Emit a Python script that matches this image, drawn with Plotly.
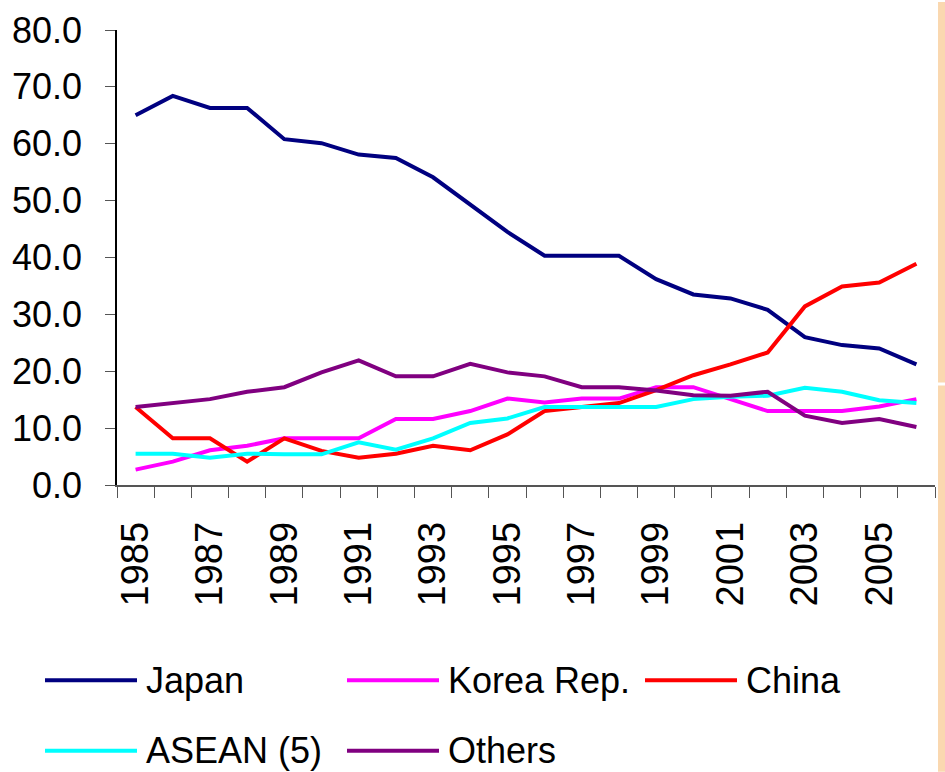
import plotly.graph_objects as go

# Share of trade by partner (%), 1985-2006
years = [str(y) for y in range(1985, 2007)]
year_labels = [y if int(y) % 2 == 1 else "" for y in years]

japan = [65.0, 68.4, 66.3, 66.3, 60.8, 60.1, 58.1, 57.5, 54.1, 49.2, 44.5,
         40.3, 40.3, 40.3, 36.2, 33.5, 32.8, 30.8, 26.0, 24.6, 24.0, 21.2]
korea = [2.7, 4.1, 6.1, 6.9, 8.2, 8.2, 8.2, 11.6, 11.6, 13.0, 15.2,
         14.5, 15.2, 15.2, 17.2, 17.2, 15.1, 13.0, 13.0, 13.0, 13.8, 15.1]
china = [13.7, 8.2, 8.2, 4.1, 8.2, 6.0, 4.8, 5.5, 6.9, 6.1, 8.9,
         13.0, 13.7, 14.4, 16.7, 19.3, 21.2, 23.3, 31.4, 34.9, 35.6, 38.9]
asean = [5.5, 5.5, 4.8, 5.5, 5.4, 5.4, 7.5, 6.2, 8.2, 10.9, 11.7,
         13.7, 13.7, 13.7, 13.7, 15.1, 15.5, 15.7, 17.1, 16.4, 14.9, 14.4]
others = [13.7, 14.4, 15.1, 16.4, 17.2, 19.8, 21.9, 19.1, 19.1, 21.3, 19.8,
          19.1, 17.2, 17.2, 16.6, 15.8, 15.7, 16.4, 12.2, 10.9, 11.6, 10.2]

series_names = ["Japan", "Korea Rep.", "China", "ASEAN (5)", "Others"]
series_values = [japan, korea, china, asean, others]
series_colors = ["#000080", "#FF00FF", "#FF0000", "#00FFFF", "#800080"]

FONT = "Liberation Sans, Arial, sans-serif"
W, H = 945, 772
ML, MR, MT, MB = 117, 10, 28, 287
PW, PH = W - ML - MR, H - MT - MB


def px_x(px):
    return (px - ML) / PW


def px_y(py):
    return (H - MB - py) / PH


fig = go.Figure()
for name, vals, col in zip(series_names, series_values, series_colors):
    fig.add_trace(go.Scatter(
        x=years, y=vals, name=name, mode="lines",
        line=dict(color=col, width=4), showlegend=False,
    ))

# Legend drawn as long line samples with labels, three per row
legend_slots = [(45, 681), (347, 681), (645, 681), (45, 752), (347, 752)]
shapes = []
annotations = []
for (lx, ly), name, col in zip(legend_slots, series_names, series_colors):
    shapes.append(dict(
        type="line", xref="paper", yref="paper",
        x0=px_x(lx), x1=px_x(lx + 92), y0=px_y(ly), y1=px_y(ly),
        line=dict(color=col, width=4),
    ))
    annotations.append(dict(
        xref="paper", yref="paper", x=px_x(lx + 100), y=px_y(ly),
        xanchor="left", yanchor="middle", showarrow=False, text=name,
        borderpad=0, font=dict(family=FONT, size=36, color="black"),
    ))

# Decorative side band at the right edge
band_col = "#FAD8B0"
shapes.append(dict(type="rect", xref="paper", yref="paper", layer="below",
                   x0=px_x(938), x1=px_x(946), y0=px_y(0), y1=px_y(382),
                   fillcolor=band_col, line=dict(width=0)))
shapes.append(dict(type="rect", xref="paper", yref="paper", layer="below",
                   x0=px_x(938), x1=px_x(946), y0=px_y(385), y1=px_y(773),
                   fillcolor=band_col, line=dict(width=0)))

fig.update_layout(
    width=W, height=H,
    margin=dict(l=ML, r=MR, t=MT, b=MB),
    paper_bgcolor="white", plot_bgcolor="white",
    font=dict(family=FONT, size=36, color="black"),
    shapes=shapes, annotations=annotations,
    showlegend=False,
)
fig.update_xaxes(
    type="category", range=[-0.5, len(years) - 0.5],
    tickmode="array", tickvals=years, ticktext=year_labels,
    tickson="boundaries", ticks="outside", ticklen=11, tickwidth=1,
    tickcolor="#555555", tickangle=-90, ticklabelstandoff=20,
    tickfont=dict(family=FONT, size=38, color="black"),
    showline=True, linecolor="#555555", linewidth=1.5,
    showgrid=False, zeroline=False,
)
fig.update_yaxes(
    range=[0, 80], tickmode="linear", tick0=0, dtick=10, tickformat=".1f",
    ticks="outside", ticklen=10, tickwidth=1, tickcolor="#555555",
    ticklabelstandoff=16,
    tickfont=dict(family=FONT, size=36, color="black"),
    showline=True, linecolor="black", linewidth=1.5,
    showgrid=False, zeroline=False,
)

fig.write_html("out.html")
